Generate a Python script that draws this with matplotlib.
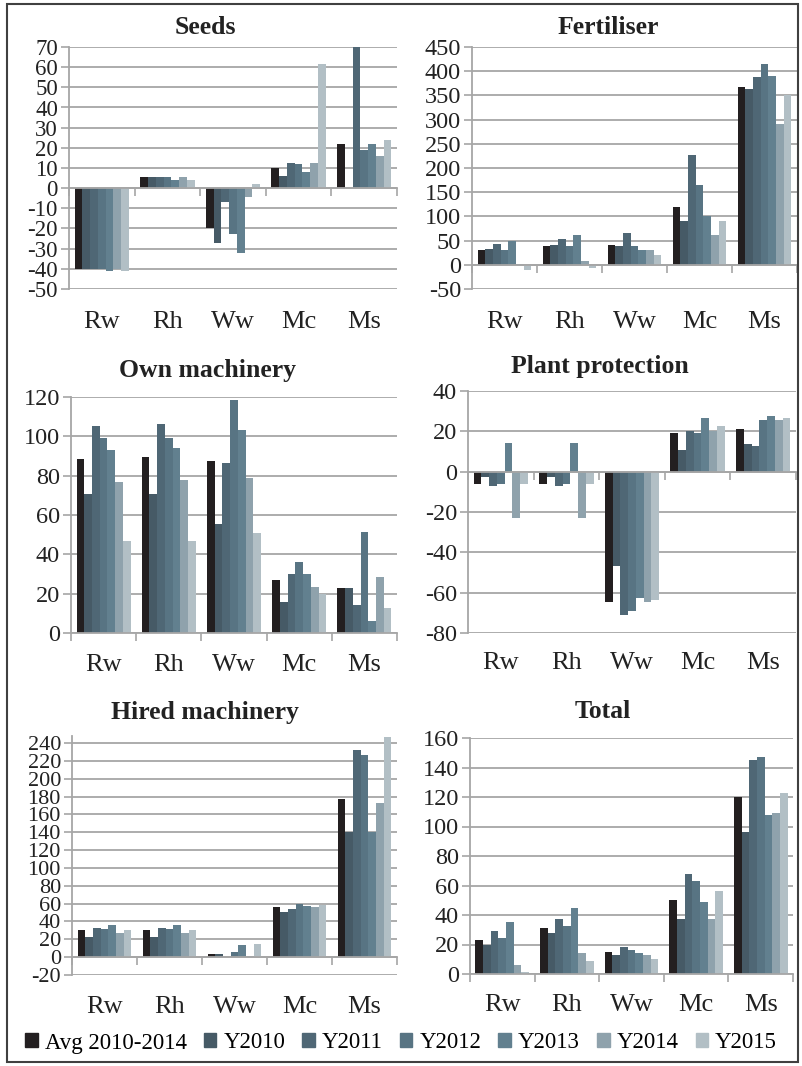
import numpy as np
import matplotlib.pyplot as plt
import matplotlib.transforms as mtransforms
from matplotlib.patches import Rectangle, Patch

plt.rcParams['font.family'] = ['Liberation Serif', 'DejaVu Serif']

crops = ["Rw", "Rh", "Ww", "Mc", "Ms"]
series = ["Avg 2010-2014", "Y2010", "Y2011", "Y2012", "Y2013", "Y2014", "Y2015"]
colors = ["#231f20", "#465a66", "#4f6775", "#587483", "#62808f", "#8fa2ac", "#b2bfc5"]

# rows = crops, columns = series
seeds = np.array([
    [-40, -40, -40, -40, -41, -40, -41],
    [5.5, 5.5, 5.5, 5.5, 4, 5.5, 4],
    [-20, -27, -7, -22.5, -32, -4.5, 2],
    [10, 6, 12.5, 12, 8, 12.5, 61.5],
    [22, 0, 70, 19, 22, 16, 24],
])
fertiliser = np.array([
    [30, 33, 43, 30, 50, 2, -11],
    [38, 40, 53, 38, 61, 8, -6],
    [41, 38, 66, 38, 30, 30, 21],
    [120, 90, 227, 165, 100, 61, 90],
    [367, 364, 388, 414, 390, 290, 350],
])
own_machinery = np.array([
    [88.5, 70.5, 105.5, 99, 93, 77, 47],
    [89.5, 70.5, 106.5, 99, 94, 78, 47],
    [87.5, 55.5, 86.5, 118.5, 103, 79, 51],
    [27, 16, 30, 36, 30, 23.5, 20],
    [23, 23, 14, 51.5, 6, 28.5, 12.5],
])
plant_protection = np.array([
    [-6, -2.5, -7, -6, 14, -23, -6],
    [-6, -2.5, -7, -6, 14, -23, -6],
    [-64.5, -47, -71, -69, -62.5, -64.5, -63.5],
    [19, 10.5, 20, 19, 26.5, 20, 22.5],
    [21, 13.5, 12.5, 25.5, 27.5, 25.5, 26.5],
])
hired_machinery = np.array([
    [30, 23, 33, 31.5, 36, 27, 30],
    [30, 23, 33, 31.5, 36, 27, 30],
    [4, 3, 0, 5.5, 14, 1, 15],
    [56, 50.5, 54.5, 59.5, 57, 56, 59],
    [177, 140, 232, 227, 140, 173, 247],
])
total = np.array([
    [23, 20, 29, 24.5, 35, 6, 1.5],
    [31, 28, 37.5, 32.5, 44.5, 14, 8.5],
    [15, 13, 18, 16, 14, 13, 10.5],
    [50.5, 37.5, 68, 63, 49, 37.5, 56.5],
    [120, 96, 145, 147, 108, 109, 123],
])

W, H = 802, 1066
fig = plt.figure(figsize=(W / 100, H / 100), dpi=100)

# (title, data, ylim, yticks, box px (l, t, r, b), title xy px, label y px, tick fontsize)
panels = [
    ("Seeds", seeds, (-50, 70), np.arange(-50, 71, 10), (69, 47, 397, 289), (205, 27), 322, 16.5),
    ("Fertiliser", fertiliser, (-50, 450), np.arange(-50, 451, 50), (472, 47, 797, 289), (608, 27), 322, 17.5),
    ("Own machinery", own_machinery, (0, 120), np.arange(0, 121, 20), (71, 397, 397, 633), (207, 370), 665, 17.5),
    ("Plant protection", plant_protection, (-80, 40), np.arange(-80, 41, 20), (468, 391, 796, 633), (600, 367), 663, 17.5),
    ("Hired machinery", hired_machinery, (-20, 248), np.arange(-20, 241, 20), (72, 736, 397, 975), (205, 713), 1007, 16),
    ("Total", total, (0, 160), np.arange(0, 161, 20), (470, 738, 793, 974), (603, 712), 1005, 17.5),
]

grid_c = "#a6a6a6"
x = np.arange(len(crops))
bw = 0.83 / len(series)

for title, data, ylim, yticks, (l, t, r, b), (tx, ty), ly, tfs in panels:
    ax = fig.add_axes([l / W, 1 - b / H, (r - l) / W, (b - t) / H])
    for j, name in enumerate(series):
        ax.bar(x + (j - 3) * bw, data[:, j], width=bw, color=colors[j], zorder=3)
    ax.set_xlim(-0.5, len(crops) - 0.5)
    ax.set_ylim(*ylim)
    ax.set_yticks(yticks)
    ax.set_yticklabels([str(v) for v in yticks], fontsize=tfs, color="#222222")
    ax.grid(axis="y", color=grid_c, lw=1.3, zorder=0)
    ax.tick_params(axis="y", length=6, width=1.2, color=grid_c, pad=2)
    for s in ("top", "right"):
        ax.spines[s].set_visible(False)
    ax.spines["left"].set_color(grid_c)
    ax.spines["left"].set_linewidth(1.3)
    ax.spines["bottom"].set_position(("data", 0))
    ax.spines["bottom"].set_color(grid_c)
    ax.spines["bottom"].set_linewidth(1.3)
    ax.spines["bottom"].set_zorder(4)
    ax.set_xticks(np.arange(-0.5, len(crops), 1.0))
    ax.set_xticklabels([])
    ax.tick_params(axis="x", length=6, width=1.2, color=grid_c, direction="out")
    trans = mtransforms.blended_transform_factory(ax.transData, fig.transFigure)
    for i, c in enumerate(crops):
        ax.text(i, 1 - ly / H, c, transform=trans, ha="center", va="center",
                fontsize=19, color="#222222")
    fig.text(tx / W, 1 - ty / H, title, ha="center", va="center",
             fontsize=18.5, fontweight="bold", color="#222222")

handles = [Patch(color=c) for c in colors]
fig.legend(handles, series, loc="center", bbox_to_anchor=(0.5, 1 - 1043 / H),
           ncol=7, frameon=False, fontsize=16.5, handlelength=0.55, handleheight=0.55,
           handletextpad=0.3, columnspacing=0.75)

fig.patches.append(Rectangle((7 / W, 4 / H), (798 - 7) / W, (1062 - 4) / H,
                             transform=fig.transFigure, fill=False,
                             edgecolor="#404040", lw=1.5))

fig.savefig("out.png", dpi=100)
